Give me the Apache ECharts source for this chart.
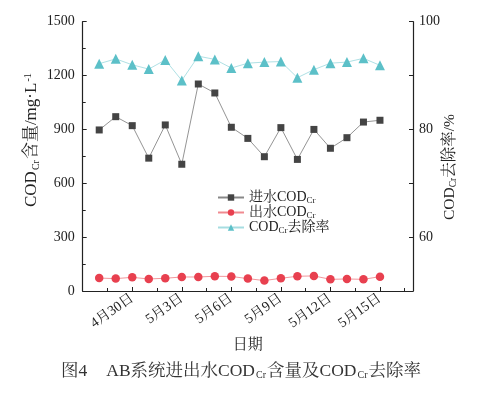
<!DOCTYPE html>
<html>
<head>
<meta charset="utf-8">
<script src="https://cdn.jsdelivr.net/npm/echarts@6/dist/echarts.min.js"></script>
<style>html,body{margin:0;padding:0;background:#fff}#c{width:481px;height:393px}</style>
</head>
<body>
<div id="c"></div>
<script>
// Dates for each sample (day index 1..18 on the x axis; 0 = 4月27日 and 20 = 5月17日 are axis ends)
var dates = ['4月28日','4月29日','4月30日','5月1日','5月2日','5月3日','5月4日','5月5日','5月6日',
             '5月7日','5月8日','5月9日','5月10日','5月11日','5月12日','5月13日','5月14日','5月15日'];
// Influent COD_Cr (mg/L)
var influent = [897, 971, 921, 740, 925, 706, 1153, 1103, 912, 850, 748, 910, 733, 900, 795, 854, 941, 951];
// Effluent COD_Cr (mg/L)
var effluent = [72, 69, 76, 67, 71, 78, 78, 82, 81, 69, 58, 71, 82, 84, 65, 67, 65, 80];
// COD_Cr removal rate (%)
var removal = [92.2, 93.1, 92.0, 91.2, 92.9, 89.1, 93.6, 93.0, 91.4, 92.3, 92.5, 92.6, 89.6, 91.1, 92.3, 92.5, 93.2, 91.9];
// Tick labels
var leftTicks = ['0','300','600','900','1200','1500'];
var rightTicks = {60:'60', 80:'80', 100:'100'};

var FONT = "'Liberation Serif','Noto Serif CJK SC','Noto Sans CJK SC',serif";
function pairs(arr){ return arr.map(function(v,i){ return [i+1, v]; }); }

var chart = echarts.init(document.getElementById('c'));
var option = {
  animation: false,
  backgroundColor: '#fff',
  textStyle: {fontFamily: FONT},
  grid: {left: 82.7, right: 68, top: 21.7, bottom: 102},
  legend: {
    orient: 'vertical', left: 212, top: 185,
    itemWidth: 26, itemHeight: 8, itemGap: 0,
    textStyle: {fontFamily: FONT, fontSize: 14, color: '#222', lineHeight: 15,
      rich: {n: {fontFamily: FONT, fontSize: 14, color: '#222', lineHeight: 15},
             s: {fontFamily: FONT, fontSize: 9, color: '#222', lineHeight: 9, padding: [6,0,0,0]}}},
    formatter: function(name){
      if (name === 'in') return '{n|进水COD}{s|Cr}';
      if (name === 'out') return '{n|出水COD}{s|Cr}';
      return '{n|COD}{s|Cr}{n|去除率}';
    },
    data: ['in','out','rate']
  },
  xAxis: {
    type: 'value', min: 0, max: 20, interval: 3,
    axisLine: {lineStyle: {color: '#222', width: 1.2}},
    axisTick: {inside: true, length: 4, lineStyle: {color: '#222'}},
    minorTick: {show: true, splitNumber: 2, length: 3, lineStyle: {color: '#222'}},
    splitLine: {show: false},
    axisLabel: {rotate: 35, fontSize: 14, color: '#222', fontFamily: FONT, margin: 6,
      showMinLabel: false, showMaxLabel: false,
      formatter: function(v){ return (v >= 1 && v <= dates.length) ? dates[v-1] : ''; }},
    name: '日期', nameLocation: 'middle', nameGap: 40,
    nameTextStyle: {fontSize: 15, color: '#222', fontFamily: FONT}
  },
  yAxis: [{
    type: 'value', min: 0, max: 1500, interval: 300,
    axisLine: {show: true, lineStyle: {color: '#222', width: 1.2}},
    axisTick: {inside: true, length: 4, lineStyle: {color: '#222'}},
    minorTick: {show: true, splitNumber: 2, length: 3, lineStyle: {color: '#222'}},
    splitLine: {show: false},
    axisLabel: {fontSize: 14, color: '#222', fontFamily: FONT, margin: 8,
      formatter: function(v){ return leftTicks[Math.round(v/300)]; }}
  }, {
    type: 'value', min: 50, max: 100, interval: 10, position: 'right',
    axisLine: {show: true, lineStyle: {color: '#222', width: 1.2}},
    axisTick: {show: true, inside: true, length: 4, lineStyle: {color: '#222'}},
    splitLine: {show: false},
    axisLabel: {fontSize: 14, color: '#222', fontFamily: FONT, margin: 6,
      formatter: function(v){ return rightTicks[v] || ''; }}
  }],
  series: [{
    name: 'in', type: 'line', yAxisIndex: 0, data: pairs(influent),
    symbol: 'rect', symbolSize: 7,
    itemStyle: {color: '#444'}, lineStyle: {color: '#888', width: 0.9}
  }, {
    name: 'out', type: 'line', yAxisIndex: 0, data: pairs(effluent),
    symbol: 'circle', symbolSize: 8.5,
    itemStyle: {color: '#e8404f'}, lineStyle: {color: '#f08a90', width: 0.9}
  }, {
    name: 'rate', type: 'line', yAxisIndex: 1, data: pairs(removal),
    symbol: 'triangle', symbolSize: 10,
    itemStyle: {color: '#5cc0c8'}, lineStyle: {color: '#a6dde1', width: 0.9}
  }],
  graphic: [{
    type: 'text', x: 32, y: 207, rotation: Math.PI/2,
    style: {text: '{n|COD}{s|Cr}{n|含量/mg·L}{p|-1}', textAlign: 'left', textVerticalAlign: 'middle',
      rich: {n: {fontFamily: FONT, fontSize: 17, fill: '#222'}, s: {fontFamily: FONT, fontSize: 10, fill: '#222', padding: [8,1,0,1]}, p: {fontFamily: FONT, fontSize: 10, fill: '#222', padding: [0,0,8,1]}}}
  }, {
    type: 'text', x: 450, y: 220, rotation: Math.PI/2,
    style: {text: '{n|COD}{s|Cr}{n|去除率/%}', textAlign: 'left', textVerticalAlign: 'middle',
      rich: {n: {fontFamily: FONT, fontSize: 15.5, fill: '#222'}, s: {fontFamily: FONT, fontSize: 9.5, fill: '#222', padding: [7,0,0,0]}}}
  }, {
    type: 'text', x: 61, y: 371,
    style: {text: '{n|图4}{g| }{n|AB系统进出水COD}{s|Cr}{n|含量及COD}{s|Cr}{n|去除率}', textAlign: 'left', textVerticalAlign: 'middle',
      rich: {n: {fontFamily: FONT, fontSize: 17.5, fill: '#333'}, g: {fontSize: 15, width: 19}, s: {fontFamily: FONT, fontSize: 10, fill: '#333', padding: [8,1,0,1]}}}
  }]
};
chart.setOption(option);
</script>
</body>
</html>
